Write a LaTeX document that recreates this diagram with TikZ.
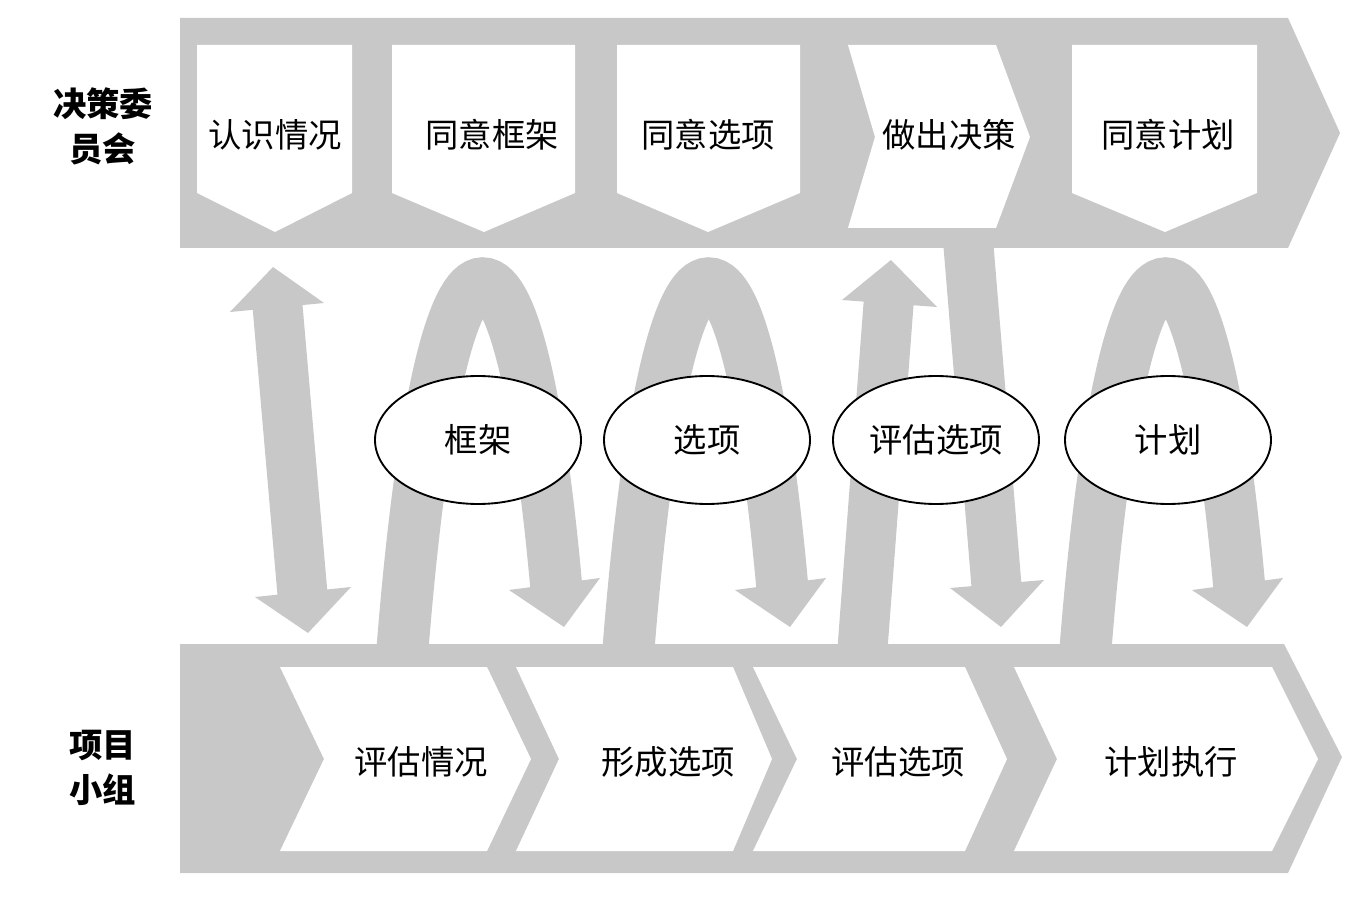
\documentclass[tikz,border=0pt]{standalone}
\usepackage{fontspec}
\usetikzlibrary{shapes.geometric}
\newfontfamily\cjk{Noto Sans CJK SC}
\definecolor{band}{RGB}{200,200,200}
\begin{document}
\begin{tikzpicture}[x=0.75pt,y=-0.75pt,
  shaft/.style={draw=band,line width=37.5pt},
  archline/.style={draw=band,line width=39pt},
  head/.style={fill=band},
  wbox/.style={fill=white},
  lbl/.style={font=\cjk\fontsize{25}{30}\selectfont, inner sep=0pt},
  side/.style={font=\cjk\bfseries\fontsize{25}{33.75}\selectfont, align=center, inner sep=0pt},
  bubble/.style={ellipse, draw=black, line width=1.4pt, fill=white, minimum width=154.5pt, minimum height=96pt, inner sep=0pt, font=\cjk\fontsize{25}{30}\selectfont}
]
\useasboundingbox (0,0) rectangle (1354,909);
\fill[white] (0,0) rectangle (1354,909);

% ---- arches (behind bands)
\foreach \d in {0,226,683}{
  \draw[archline] (402+\d,655) .. controls (440+\d,170) and (520+\d,170) .. (557+\d,595);
  \fill[head] (509+\d,590) -- (564+\d,627) -- (600+\d,578) -- cycle;
}
% ---- double arrow
\draw[shaft] (277,300) -- (303,600);
\fill[head] (230,312) -- (273,267) -- (324,303) -- cycle;
\fill[head] (255,597) -- (308,633) -- (351,587) -- cycle;
% ---- up arrow
\draw[shaft] (862,655) -- (889,298);
\fill[head] (842,300) -- (891,260) -- (937,307) -- cycle;
% ---- down arrow
\draw[shaft] (968,240) -- (997,592);
\fill[head] (950,588) -- (1001,627) -- (1044,580) -- cycle;

% ---- top band
\fill[band] (180,18) -- (1288,18) -- (1340,133) -- (1288,248) -- (180,248) -- cycle;
\fill[wbox] (197,45) -- (352,45) -- (352,193) -- (275,232) -- (197,193) -- cycle;
\fill[wbox] (392,45) -- (575,45) -- (575,193) -- (484,232) -- (392,193) -- cycle;
\fill[wbox] (617,45) -- (800,45) -- (800,193) -- (708,232) -- (617,193) -- cycle;
\fill[wbox] (848,45) -- (996,45) -- (1030,137) -- (996,228) -- (848,228) -- (875,137) -- cycle;
\fill[wbox] (1072,45) -- (1257,45) -- (1257,193) -- (1165,232) -- (1072,193) -- cycle;
\node[lbl] (t1) at (275,135) {认识情况};
\node[lbl] (t2) at (492,135) {同意框架};
\node[lbl] (t3) at (708,135) {同意选项};
\node[lbl] (t4) at (949,135) {做出决策};
\node[lbl] (t5) at (1168,135) {同意计划};

% ---- bottom band
\fill[band] (180,644) -- (1284,644) -- (1342,757) -- (1288,873) -- (180,873) -- cycle;
\fill[wbox] (280,667) -- (487,667) -- (531,759) -- (487,851) -- (280,851) -- (324,759) -- cycle;
\fill[wbox] (516,667) -- (733,667) -- (772,759) -- (733,851) -- (516,851) -- (559,759) -- cycle;
\fill[wbox] (753,667) -- (965,667) -- (1007,759) -- (965,851) -- (753,851) -- (797,759) -- cycle;
\fill[wbox] (1014,667) -- (1272,667) -- (1318,759) -- (1272,851) -- (1014,851) -- (1057,759) -- cycle;
\node[lbl] (b1) at (421,762) {评估情况};
\node[lbl] (b2) at (668,762) {形成选项};
\node[lbl] (b3) at (898,762) {评估选项};
\node[lbl] (b4) at (1171,762) {计划执行};

% ---- ellipses
\node[bubble] (e1) at (478,440) {框架};
\node[bubble] (e2) at (707,440) {选项};
\node[bubble] (e3) at (936,440) {评估选项};
\node[bubble] (e4) at (1168,440) {计划};

% ---- side labels
\node[side] (s1) at (103,126) {决策委\\员会};
\node[side] (s2) at (103,768) {项目\\小组};
\end{tikzpicture}
\end{document}
